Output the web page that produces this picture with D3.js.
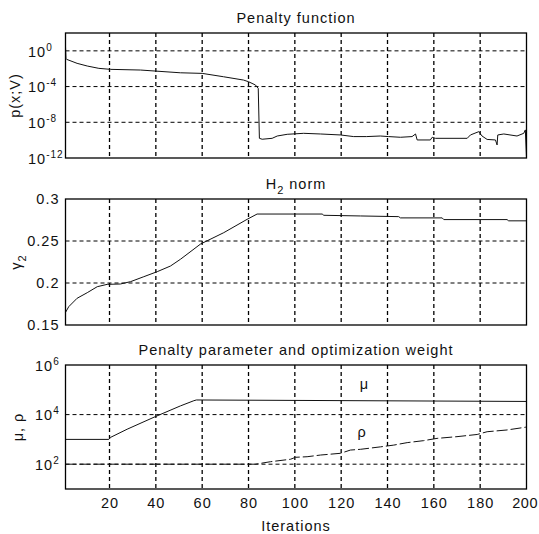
<!DOCTYPE html>
<html lang="en">
<head>
<meta charset="UTF-8">
<title>Penalty function, H2 norm and weights</title>
<script src="https://d3js.org/d3.v7.min.js"></script>
<style>
  body { margin: 0; background: #fff; }
  svg text { font-family: "Liberation Sans", Arial, sans-serif; font-size: 14.5px; fill: #111; letter-spacing: 1px; }
  .grid line { stroke: #000; stroke-width: 1; stroke-dasharray: 4,3; }
  .frame { fill: none; stroke: #000; stroke-width: 1.3; }
  .curve { fill: none; stroke: #111; stroke-width: 1; }
  .axis path { display: none; }
</style>
</head>
<body>
<div id="chart"></div>
<script>
// x axis (iterations)
const iterTicks = [20, 40, 60, 80, 100, 120, 140, 160, 180, 200];

// penalty function p(x;V)
const penaltyIter = [1, 1.2, 1.5, 6, 10.4, 15.4, 20.4, 33.4, 50.6, 60, 69.2, 77.8, 80, 83, 84.2, 84.7, 85.9, 90.2,
  92.4, 96.7, 103.8, 111, 119.7, 125.4, 131, 136.9, 140.5, 145.6, 150.6, 152.1, 152.8, 158.5, 159.3, 160.7,
  174.4, 175.8, 179.4, 180.8, 183, 186.6, 187.3, 187.6, 190.2, 195.9, 198.8, 199.5, 200];
const penaltyVal = [2.9, 0.145, 0.112, 0.04, 0.02, 0.011, 8.5e-3, 7.1e-3, 3.5e-3, 3.0e-3, 1.26e-3, 5.4e-4, 3.5e-4,
  1.5e-4, 6.3e-5, 1.6e-10, 1.26e-10, 1.6e-10, 2.9e-10, 4.5e-10, 5.8e-10, 4.9e-10, 3.8e-10, 2.5e-10, 2.5e-10,
  2.9e-10, 2.5e-10, 2.1e-10, 2.5e-10, 4.9e-10, 1.05e-10, 1.05e-10, 2.1e-10, 1.6e-10, 1.6e-10, 3.8e-10, 8.9e-10,
  2.9e-10, 1.2e-10, 1.05e-10, 2.9e-11, 3.8e-10, 4.9e-10, 2.9e-10, 5.8e-10, 1.4e-9, 1e-12];
const penaltyTickExp = [0, -4, -8, -12];

// H2 norm gamma_2
const h2Iter = [1, 2.4, 6, 10.4, 14.7, 19, 24.7, 29.1, 34.8, 40.6, 46.3, 50.6, 59.3, 69.3, 79.4, 83.7, 111.8,
  112.5, 128.3, 144.8, 145.6, 163.6, 164.3, 191.6, 192.3, 200];
const h2Val = [0.165, 0.1718, 0.1818, 0.1885, 0.1956, 0.1984, 0.1988, 0.2016, 0.2075, 0.2135, 0.2202, 0.2282,
  0.2464, 0.2599, 0.2758, 0.2821, 0.2821, 0.2806, 0.2798, 0.279, 0.2775, 0.2775, 0.2755, 0.2755, 0.274, 0.274];
const h2Ticks = [0.15, 0.2, 0.25, 0.3];

// penalty parameter mu and optimization weight rho
const muIter = [1, 19.7, 20.4, 27.6, 39.8, 50.6, 56.4, 57.5, 200];
const muVal = [1000, 1000, 1200, 2570, 8300, 22400, 36300, 38900, 33900];
const rhoIter = [1, 83, 89.5, 98.1, 100.3, 105.3, 111.1, 119.7, 124, 128.3, 137, 142.7, 148.5, 155.6, 161.4,
  170, 178.7, 183, 191.6, 199.5, 200];
const rhoVal = [100, 100, 126, 158, 190, 200, 234, 275, 372, 398, 501, 589, 741, 891, 1100, 1290, 1580, 2040,
  2400, 3090, 3160];
const weightTickExp = [2, 4, 6];

const W = 539, H = 534;
const svg = d3.select("#chart").append("svg").attr("width", W).attr("height", H);

const x = d3.scaleLinear().domain([1, 200]).range([65.5, 526.5]);

function superLabels(sel, exps, startX) {
  sel.selectAll(".tick text").each(function(d, i) {
    const t = d3.select(this).text("").attr("text-anchor", "start").attr("x", startX).attr("dy", "0.36em");
    t.append("tspan").text("10");
    t.append("tspan").attr("dy", "-6").style("font-size", "10px").text(exps[i]);
  });
}

function panel(cfg) {
  const g = svg.append("g");
  const y = cfg.y;

  // grid
  const grid = g.append("g").attr("class", "grid");
  grid.selectAll(".v").data(iterTicks.filter(d => d < 200)).join("line")
    .attr("x1", d => x(d)).attr("x2", d => x(d))
    .attr("y1", cfg.top).attr("y2", cfg.bottom)
    .style("stroke-width", 1.3);
  grid.selectAll(".h").data(cfg.gridVals).join("line")
    .attr("x1", x(1)).attr("x2", x(200))
    .attr("y1", d => y(d)).attr("y2", d => y(d));

  // curves
  cfg.series.forEach(s => {
    const pts = s.iter.map((it, i) => [it, s.val[i]]);
    g.append("path").attr("class", "curve")
      .attr("d", d3.line().x(d => x(d[0])).y(d => y(d[1]))(pts))
      .style("stroke-dasharray", s.dash || null);
  });

  g.append("rect").attr("class", "frame")
    .attr("x", x(1)).attr("y", cfg.top)
    .attr("width", x(200) - x(1)).attr("height", cfg.bottom - cfg.top);

  // y axis
  const ya = g.append("g").attr("class", "axis").attr("transform", `translate(${x(1)},0)`)
    .call(d3.axisLeft(y).tickValues(cfg.ticks).tickSize(0).tickPadding(6)
      .tickFormat(cfg.fmt || null));
  if (cfg.exps) superLabels(ya, cfg.exps, cfg.labelX);

  // title
  g.append("text").attr("x", (x(1) + x(200)) / 2).attr("y", cfg.top - 10)
    .attr("text-anchor", "middle").call(cfg.title);

  // y label
  g.append("text").attr("transform", `translate(${cfg.ylabelX},${(cfg.top + cfg.bottom) / 2}) rotate(-90)`)
    .attr("text-anchor", "middle").call(cfg.ylabel);
  return g;
}

// top: penalty function
panel({
  top: 33, bottom: 158,
  y: d3.scaleLog().domain([1e-12, 1e2]).range([158, 33]),
  ticks: penaltyTickExp.map(e => Math.pow(10, e)),
  gridVals: [1, 1e-4, 1e-8],
  exps: penaltyTickExp, labelX: -37.5,
  series: [{ iter: penaltyIter, val: penaltyVal }],
  title: t => t.text("Penalty function"),
  ylabel: t => t.text("p(x;V)"),
  ylabelX: 20
});

// middle: H2 norm
panel({
  top: 199, bottom: 325,
  y: d3.scaleLinear().domain([0.15, 0.3]).range([325, 199]),
  ticks: h2Ticks,
  gridVals: [0.2, 0.25],
  fmt: d3.format(""),
  series: [{ iter: h2Iter, val: h2Val }],
  title: t => {
    t.append("tspan").text("H");
    t.append("tspan").attr("dy", 5).style("font-size", "11px").text("2");
    t.append("tspan").attr("dy", -5).text(" norm");
  },
  ylabel: t => {
    t.append("tspan").text("γ");
    t.append("tspan").attr("dy", 5).style("font-size", "11px").text("2");
  },
  ylabelX: 21
});

// bottom: penalty parameter and weight
const bottomY = d3.scaleLog().domain([10, 1e6]).range([489, 365]);
const gb = panel({
  top: 365, bottom: 489,
  y: bottomY,
  ticks: weightTickExp.map(e => Math.pow(10, e)),
  gridVals: [1e2, 1e4],
  exps: weightTickExp, labelX: -30.5,
  series: [{ iter: muIter, val: muVal }, { iter: rhoIter, val: rhoVal, dash: "11,3" }],
  title: t => t.text("Penalty parameter and optimization weight"),
  ylabel: t => t.text("μ, ρ"),
  ylabelX: 23
});

const xa = gb.append("g").attr("class", "axis").attr("transform", "translate(0,489)")
  .call(d3.axisBottom(x).tickValues(iterTicks).tickSize(0).tickPadding(9));
// keep the last label inside the picture
xa.selectAll(".tick text").filter(d => d === 200)
  .attr("text-anchor", "end").attr("x", 11).style("letter-spacing", "0.5px");

gb.append("text").attr("x", x(130)).attr("y", 389).attr("text-anchor", "middle").text("μ");
gb.append("text").attr("x", x(129)).attr("y", 437).attr("text-anchor", "middle").text("ρ");

svg.append("text").attr("x", (x(1) + x(200)) / 2).attr("y", 531)
  .attr("text-anchor", "middle").text("Iterations");
</script>
</body>
</html>
